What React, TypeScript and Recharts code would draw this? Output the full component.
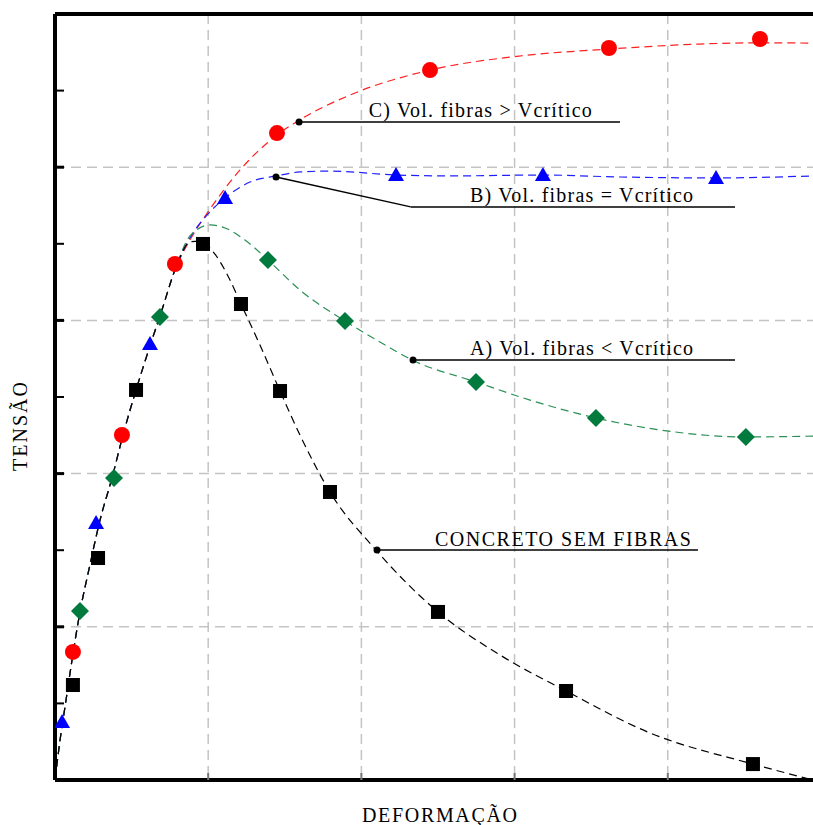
import React from "react";
import {
  ComposedChart,
  Line,
  Scatter,
  XAxis,
  YAxis,
  CartesianGrid,
  ReferenceLine,
  ReferenceDot,
} from "recharts";

type P = { x: number; y: number };

// Curves (x = deformação, y = tensão in grid units)
const riseCurve: P[] = [
  { x: 0, y: 0 },
  { x: 0.033, y: 0.261 },
  { x: 0.072, y: 0.522 },
  { x: 0.111, y: 0.783 },
  { x: 0.163, y: 1.097 },
  { x: 0.228, y: 1.403 },
  { x: 0.294, y: 1.697 },
  { x: 0.372, y: 1.971 },
  { x: 0.444, y: 2.252 },
  { x: 0.529, y: 2.546 },
  { x: 0.62, y: 2.833 },
  { x: 0.698, y: 3.068 },
  { x: 0.783, y: 3.329 },
];

const blackTail: P[] = [
  { x: 0.881, y: 3.512 },
  { x: 0.946, y: 3.518 },
  { x: 1.044, y: 3.433 },
  { x: 1.129, y: 3.29 },
  { x: 1.214, y: 3.107 },
  { x: 1.338, y: 2.839 },
  { x: 1.469, y: 2.539 },
  { x: 1.599, y: 2.252 },
  { x: 1.795, y: 1.88 },
  { x: 2.095, y: 1.501 },
  { x: 2.5, y: 1.097 },
  { x: 2.905, y: 0.816 },
  { x: 3.336, y: 0.581 },
  { x: 3.884, y: 0.307 },
  { x: 4.556, y: 0.104 },
  { x: 4.948, y: 0 },
];

const greenTail: P[] = [
  { x: 0.881, y: 3.551 },
  { x: 1.012, y: 3.623 },
  { x: 1.11, y: 3.603 },
  { x: 1.24, y: 3.525 },
  { x: 1.39, y: 3.394 },
  { x: 1.599, y: 3.198 },
  { x: 1.893, y: 2.996 },
  { x: 2.121, y: 2.859 },
  { x: 2.33, y: 2.742 },
  { x: 2.748, y: 2.598 },
  { x: 3.101, y: 2.48 },
  { x: 3.531, y: 2.363 },
  { x: 3.949, y: 2.285 },
  { x: 4.51, y: 2.239 },
  { x: 4.948, y: 2.245 },
];

const blueTail: P[] = [
  { x: 0.881, y: 3.538 },
  { x: 0.999, y: 3.695 },
  { x: 1.11, y: 3.799 },
  { x: 1.273, y: 3.903 },
  { x: 1.443, y: 3.943 },
  { x: 1.599, y: 3.969 },
  { x: 1.795, y: 3.975 },
  { x: 2.226, y: 3.949 },
  { x: 2.578, y: 3.943 },
  { x: 3.185, y: 3.949 },
  { x: 3.688, y: 3.936 },
  { x: 4.315, y: 3.93 },
  { x: 4.948, y: 3.943 },
];

const redTail: P[] = [
  { x: 0.881, y: 3.525 },
  { x: 0.999, y: 3.708 },
  { x: 1.208, y: 3.982 },
  { x: 1.449, y: 4.21 },
  { x: 1.586, y: 4.302 },
  { x: 1.926, y: 4.471 },
  { x: 2.448, y: 4.634 },
  { x: 3.035, y: 4.726 },
  { x: 3.616, y: 4.771 },
  { x: 4.21, y: 4.804 },
  { x: 4.602, y: 4.812 },
  { x: 4.948, y: 4.81 },
];

// Markers
const redMarkers: P[] = [
  { x: 0.117, y: 0.836 },
  { x: 0.437, y: 2.252 },
  { x: 0.783, y: 3.368 },
  { x: 1.449, y: 4.223 },
  { x: 2.448, y: 4.634 },
  { x: 3.616, y: 4.778 },
  { x: 4.602, y: 4.837 },
];
const blueMarkers: P[] = [
  { x: 0.046, y: 0.379 },
  { x: 0.268, y: 1.678 },
  { x: 0.62, y: 2.846 },
  { x: 1.11, y: 3.799 },
  { x: 2.226, y: 3.949 },
  { x: 3.185, y: 3.949 },
  { x: 4.315, y: 3.93 },
];
const greenMarkers: P[] = [
  { x: 0.163, y: 1.103 },
  { x: 0.385, y: 1.971 },
  { x: 0.685, y: 3.022 },
  { x: 1.39, y: 3.394 },
  { x: 1.893, y: 2.996 },
  { x: 2.748, y: 2.598 },
  { x: 3.531, y: 2.363 },
  { x: 4.51, y: 2.239 },
];
const blackMarkers: P[] = [
  { x: 0.117, y: 0.62 },
  { x: 0.281, y: 1.449 },
  { x: 0.529, y: 2.546 },
  { x: 0.966, y: 3.499 },
  { x: 1.214, y: 3.107 },
  { x: 1.469, y: 2.539 },
  { x: 1.795, y: 1.88 },
  { x: 2.5, y: 1.097 },
  { x: 3.336, y: 0.581 },
  { x: 4.556, y: 0.104 },
];

// Annotations
const annotations = [
  {
    text: "C) Vol. fibras > Vcrítico",
    dot: { x: 1.593, y: 4.295 },
    path: [{ x: 1.593, y: 4.295 }, { x: 3.688, y: 4.295 }],
    textPos: { x: 2.048, y: 4.328 },
    textLen: 223,
  },
  {
    text: "B) Vol. fibras = Vcrítico",
    dot: { x: 1.443, y: 3.936 },
    path: [{ x: 1.443, y: 3.936 }, { x: 2.322, y: 3.741 }, { x: 4.439, y: 3.741 }],
    textPos: { x: 2.709, y: 3.773 },
    textLen: 223,
  },
  {
    text: "A) Vol. fibras < Vcrítico",
    dot: { x: 2.337, y: 2.742 },
    path: [{ x: 2.337, y: 2.742 }, { x: 4.439, y: 2.742 }],
    textPos: { x: 2.709, y: 2.774 },
    textLen: 223,
  },
  {
    text: "CONCRETO SEM FIBRAS",
    dot: { x: 2.102, y: 1.501 },
    path: [{ x: 2.102, y: 1.501 }, { x: 4.197, y: 1.501 }],
    textPos: { x: 2.48, y: 1.527 },
    textLen: 256,
  },
];

const yTicks = [0.5, 1, 1.5, 2, 2.5, 3, 3.5, 4, 4.5];
const xTicks = [1, 2, 3, 4];
const gridVals = [1, 2, 3, 4];
const X_MAX = 4.948;
const Y_MAX = 5;

const FONT = "Liberation Serif, DejaVu Serif, serif";

const YTick = (props: any) => {
  const { x, y, payload } = props;
  const major = Number.isInteger(payload.value);
  return (
    <line
      x1={x}
      x2={x + 9}
      y1={y}
      y2={y}
      stroke="#000"
      strokeWidth={major ? 3 : 2}
    />
  );
};

const XTick = (props: any) => {
  const { x, y } = props;
  return <line x1={x} x2={x} y1={y} y2={y - 7} stroke="#777" strokeWidth={2} />;
};

const circleShape = (p: any) => <circle cx={p.cx} cy={p.cy} r={8} fill="#ff0000" />;
const triShape = (p: any) => (
  <polygon
    points={`${p.cx},${p.cy - 8} ${p.cx - 8},${p.cy + 6} ${p.cx + 8},${p.cy + 6}`}
    fill="#0000ff"
  />
);
const diamondShape = (p: any) => (
  <polygon
    points={`${p.cx},${p.cy - 9} ${p.cx + 9},${p.cy} ${p.cx},${p.cy + 9} ${p.cx - 9},${p.cy}`}
    fill="#007a3d"
  />
);
const squareShape = (p: any) => (
  <rect x={p.cx - 7} y={p.cy - 7} width={14} height={14} fill="#000" />
);

export default function App() {
  const redCurve = [...riseCurve, ...redTail];
  const blueCurve = [...riseCurve, ...blueTail];
  const greenCurve = [...riseCurve, ...greenTail];
  const blackCurve = [...riseCurve, ...blackTail];

  return (
    <div style={{ position: "absolute", left: 0, top: 0, width: 813, height: 825, background: "#fff" }}>
      <ComposedChart
        width={813}
        height={825}
        margin={{ top: 0, right: 0, bottom: 0, left: 0 }}
      >
        <CartesianGrid
          stroke="#c4c4c4"
          strokeDasharray="10 6"
          strokeWidth={1.5}
          horizontalValues={gridVals}
          verticalValues={gridVals}
        />
        <XAxis
          type="number"
          dataKey="x"
          domain={[0, X_MAX]}
          ticks={xTicks}
          height={45}
          tickSize={0}
          tickMargin={0}
          tick={<XTick />}
          tickLine={false}
          axisLine={false}
          allowDataOverflow
        />
        <XAxis
          xAxisId="top"
          orientation="top"
          type="number"
          dataKey="x"
          domain={[0, X_MAX]}
          height={14}
          tick={false}
          tickLine={false}
          axisLine={false}
        />
        <YAxis
          type="number"
          dataKey="y"
          domain={[0, Y_MAX]}
          ticks={yTicks}
          width={55}
          tickSize={0}
          tickMargin={0}
          tick={<YTick />}
          tickLine={false}
          axisLine={false}
          allowDataOverflow
        />

        <Line data={redCurve} dataKey="y" type="monotone" stroke="#ff2020" strokeWidth={1.2} strokeDasharray="8 5" dot={false} activeDot={false} isAnimationActive={false} />
        <Line data={blueCurve} dataKey="y" type="monotone" stroke="#2020ff" strokeWidth={1.2} strokeDasharray="8 5" dot={false} activeDot={false} isAnimationActive={false} />
        <Line data={greenCurve} dataKey="y" type="monotone" stroke="#2a9055" strokeWidth={1.2} strokeDasharray="8 5" dot={false} activeDot={false} isAnimationActive={false} />
        <Line data={blackCurve} dataKey="y" type="monotone" stroke="#000" strokeWidth={1.2} strokeDasharray="8 5" dot={false} activeDot={false} isAnimationActive={false} />

        {/* frame: left, bottom, top */}
        <ReferenceLine x={0} stroke="#000" strokeWidth={4} ifOverflow="visible" />
        <ReferenceLine y={0} stroke="#000" strokeWidth={4} ifOverflow="visible" />
        <ReferenceLine y={Y_MAX} stroke="#000" strokeWidth={4} ifOverflow="visible" />

        {annotations.map((a, i) =>
          a.path.slice(1).map((pt, j) => (
            <ReferenceLine
              key={`seg-${i}-${j}`}
              segment={[a.path[j], pt]}
              stroke="#000"
              strokeWidth={1.5}
            />
          ))
        )}
        {annotations.map((a, i) => (
          <ReferenceDot key={`dot-${i}`} x={a.dot.x} y={a.dot.y} r={3.5} fill="#000" stroke="none" />
        ))}
        {annotations.map((a, i) => (
          <ReferenceDot
            key={`txt-${i}`}
            x={a.textPos.x}
            y={a.textPos.y}
            shape={(p: any) => (
              <text
                x={p.cx}
                y={p.cy}
                style={{ fontFamily: FONT }}
                fontSize={20}
                fill="#000"
                textLength={a.textLen}
                lengthAdjust="spacing"
              >
                {a.text}
              </text>
            )}
          />
        ))}

        <Scatter data={redMarkers} dataKey="y" shape={circleShape} isAnimationActive={false} />
        <Scatter data={blueMarkers} dataKey="y" shape={triShape} isAnimationActive={false} />
        <Scatter data={greenMarkers} dataKey="y" shape={diamondShape} isAnimationActive={false} />
        <Scatter data={blackMarkers} dataKey="y" shape={squareShape} isAnimationActive={false} />
      </ComposedChart>
      <svg
        width={813}
        height={825}
        style={{ position: "absolute", left: 0, top: 0, pointerEvents: "none" }}
      >
        <text x={362} y={822} style={{ fontFamily: FONT }} fontSize={20} fill="#000" textLength={155} lengthAdjust="spacing">
          DEFORMAÇÃO
        </text>
        <text
          x={27}
          y={471}
          transform="rotate(-90 27 471)"
          style={{ fontFamily: FONT }}
          fontSize={20}
          fill="#000"
          textLength={89}
          lengthAdjust="spacing"
        >
          TENSÃO
        </text>
      </svg>
    </div>
  );
}
